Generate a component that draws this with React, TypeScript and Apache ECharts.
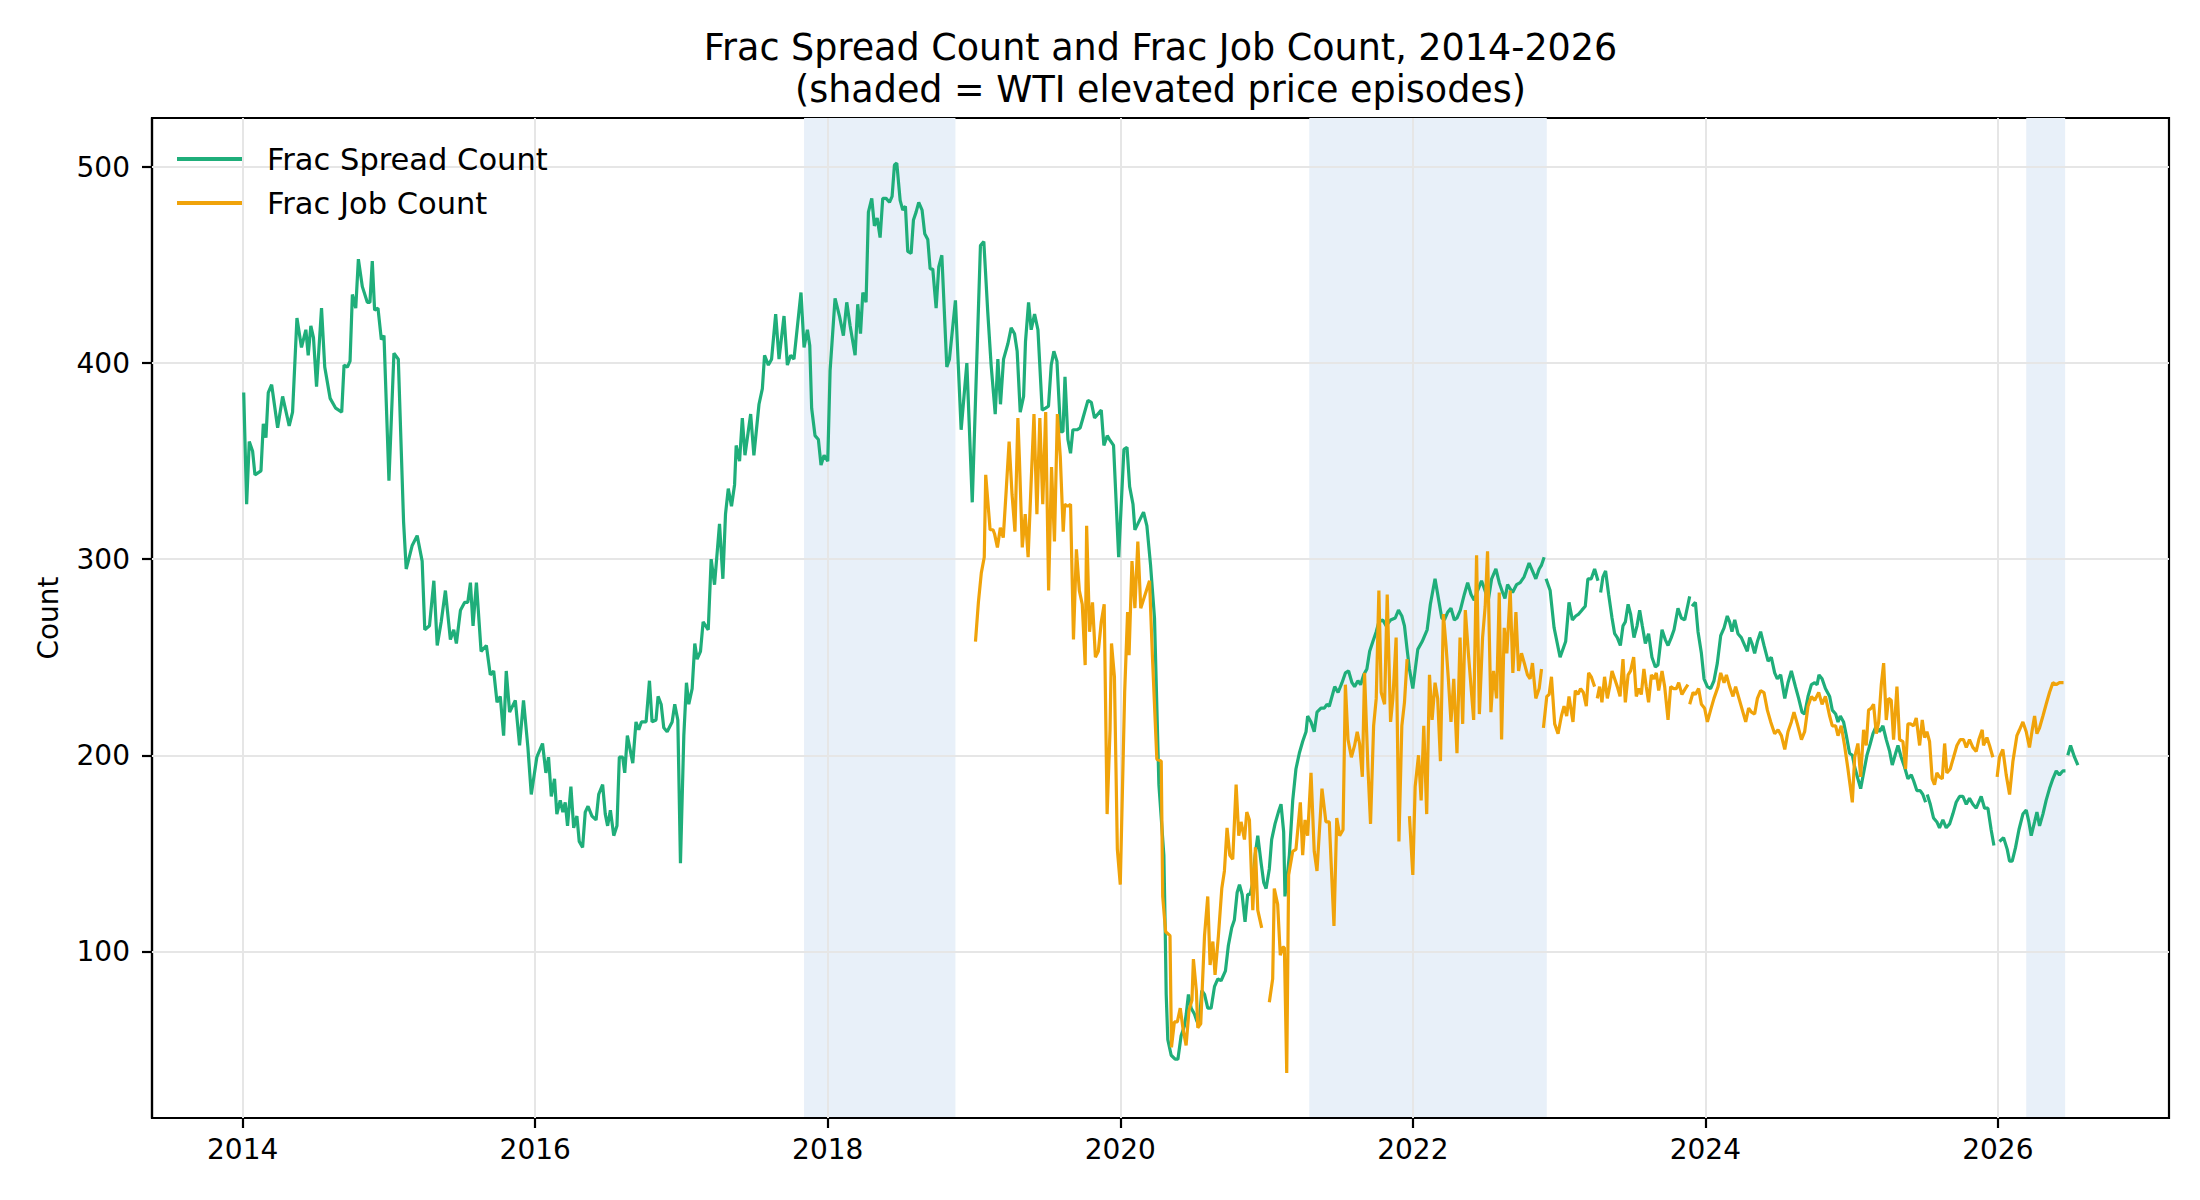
import { useEffect, useRef } from "react";
import * as echarts from "echarts";

// [decimal year, count]; null = no reading that week (line breaks)
type Pt = [number, number | null];

const spread2014: Pt[] = [
  [2014.007, 385], [2014.027, 328], [2014.045, 360], [2014.068, 355], [2014.084, 343], [2014.125, 345],
  [2014.141, 369], [2014.159, 362], [2014.175, 385], [2014.198, 389], [2014.239, 367], [2014.273, 383],
  [2014.318, 368], [2014.341, 375], [2014.371, 423], [2014.402, 408], [2014.432, 417], [2014.448, 404],
  [2014.466, 419], [2014.484, 413], [2014.505, 388], [2014.539, 428], [2014.561, 398], [2014.598, 382],
  [2014.636, 377], [2014.677, 375], [2014.693, 399], [2014.716, 398], [2014.734, 401], [2014.75, 435],
  [2014.773, 428], [2014.791, 453], [2014.818, 439], [2014.852, 431], [2014.87, 431], [2014.886, 452],
  [2014.902, 427], [2014.925, 428], [2014.948, 412], [2014.966, 414], [2015.0, 340], [2015.034, 405],
  [2015.064, 402], [2015.1, 319], [2015.118, 295], [2015.132, 299], [2015.159, 307], [2015.193, 312],
  [2015.227, 299], [2015.245, 264], [2015.277, 266], [2015.307, 289], [2015.33, 256], [2015.357, 268],
  [2015.386, 284], [2015.42, 259], [2015.443, 264], [2015.461, 257], [2015.489, 274], [2015.518, 278],
  [2015.539, 278], [2015.557, 288], [2015.575, 266], [2015.598, 288], [2015.63, 253], [2015.666, 256],
  [2015.693, 241], [2015.716, 243], [2015.739, 227], [2015.761, 230], [2015.784, 210], [2015.802, 243],
  [2015.825, 222], [2015.864, 228], [2015.893, 205], [2015.92, 228], [2015.95, 204], [2015.973, 180],
];

const spread2016: Pt[] = [
  [2016.011, 199], [2016.05, 206], [2016.073, 191], [2016.091, 199], [2016.11, 179], [2016.132, 188],
  [2016.148, 170], [2016.171, 177], [2016.189, 171], [2016.205, 176], [2016.221, 164], [2016.244, 184],
  [2016.263, 163], [2016.285, 169], [2016.301, 156], [2016.324, 153], [2016.342, 171], [2016.361, 174],
  [2016.388, 169], [2016.416, 167], [2016.434, 180], [2016.461, 185], [2016.479, 170], [2016.495, 164],
  [2016.514, 172], [2016.537, 159], [2016.559, 164], [2016.575, 199], [2016.598, 199], [2016.612, 191],
  [2016.63, 210], [2016.667, 196], [2016.689, 217], [2016.708, 213], [2016.726, 217], [2016.758, 217],
  [2016.781, 238], [2016.799, 217], [2016.826, 218], [2016.84, 230], [2016.861, 226], [2016.879, 214],
  [2016.902, 212], [2016.936, 217], [2016.954, 226], [2016.975, 218], [2016.993, 145], [2017.016, 210],
  [2017.034, 237], [2017.05, 226], [2017.073, 234], [2017.091, 257], [2017.107, 249], [2017.13, 253],
  [2017.148, 268], [2017.183, 264], [2017.203, 300], [2017.226, 287], [2017.26, 318], [2017.283, 290],
  [2017.301, 323], [2017.32, 336], [2017.342, 327], [2017.363, 338], [2017.374, 358], [2017.397, 350],
  [2017.416, 372], [2017.434, 353], [2017.473, 374], [2017.495, 353], [2017.53, 379], [2017.553, 387],
  [2017.568, 404], [2017.594, 399], [2017.616, 402], [2017.644, 425], [2017.667, 402], [2017.701, 424],
  [2017.724, 399], [2017.747, 404], [2017.769, 402], [2017.817, 436], [2017.838, 408], [2017.861, 417],
  [2017.877, 409], [2017.89, 377], [2017.913, 363], [2017.936, 361], [2017.954, 348], [2017.975, 353],
];

const spread2018: Pt[] = [
  [2018.0, 350], [2018.016, 396], [2018.05, 433], [2018.08, 424], [2018.107, 414], [2018.13, 431],
  [2018.153, 419], [2018.187, 404], [2018.205, 430], [2018.224, 415], [2018.24, 436], [2018.262, 431],
  [2018.278, 477], [2018.301, 484], [2018.319, 470], [2018.338, 474], [2018.358, 464], [2018.376, 484],
  [2018.399, 484], [2018.422, 482], [2018.44, 485], [2018.456, 501], [2018.472, 502], [2018.495, 483],
  [2018.513, 478], [2018.531, 480], [2018.547, 457], [2018.57, 456], [2018.586, 473], [2018.604, 477],
  [2018.622, 482], [2018.645, 478], [2018.663, 466], [2018.684, 463], [2018.7, 448], [2018.718, 448],
  [2018.741, 428], [2018.759, 449], [2018.78, 455], [2018.814, 398], [2018.832, 402], [2018.873, 432],
  [2018.912, 366], [2018.951, 400], [2018.988, 329], [2019.044, 460], [2019.067, 462], [2019.094, 426],
  [2019.117, 399], [2019.145, 374], [2019.163, 402], [2019.181, 379], [2019.202, 402], [2019.232, 410],
  [2019.254, 418], [2019.277, 415], [2019.295, 406], [2019.316, 375], [2019.339, 383], [2019.352, 411],
  [2019.373, 431], [2019.391, 417], [2019.414, 425], [2019.437, 417], [2019.466, 376], [2019.489, 377],
  [2019.509, 378], [2019.528, 399], [2019.546, 406], [2019.567, 401], [2019.592, 365], [2019.608, 365],
  [2019.622, 393], [2019.642, 361], [2019.66, 354], [2019.676, 366], [2019.704, 366], [2019.726, 367],
  [2019.745, 372], [2019.779, 381], [2019.802, 380], [2019.824, 372], [2019.87, 376], [2019.888, 358],
  [2019.911, 363], [2019.927, 361], [2019.954, 358], [2019.989, 301], [2020.025, 356], [2020.046, 357],
  [2020.064, 337], [2020.087, 328],
];

const spread2020: Pt[] = [
  [2020.1, 315], [2020.12, 318], [2020.159, 324], [2020.182, 317], [2020.207, 297], [2020.234, 270],
  [2020.264, 185], [2020.298, 149], [2020.307, 112], [2020.314, 78], [2020.325, 55], [2020.348, 47],
  [2020.375, 45], [2020.394, 45], [2020.416, 57], [2020.439, 62], [2020.451, 68], [2020.466, 78],
  [2020.485, 71], [2020.507, 68], [2020.526, 64], [2020.541, 64], [2020.557, 80], [2020.576, 78],
  [2020.598, 71], [2020.621, 71], [2020.644, 82], [2020.667, 86], [2020.689, 85], [2020.719, 90],
  [2020.739, 103], [2020.762, 112], [2020.78, 116], [2020.799, 130], [2020.815, 134], [2020.833, 129],
  [2020.853, 115], [2020.871, 129], [2020.887, 129], [2020.906, 135], [2020.922, 149], [2020.94, 159],
  [2020.963, 145], [2020.981, 135], [2020.997, 132], [2021.019, 142], [2021.035, 157], [2021.058, 165],
  [2021.081, 171], [2021.099, 175], [2021.117, 161], [2021.126, 128], [2021.144, 140], [2021.156, 149],
  [2021.179, 177], [2021.201, 193], [2021.224, 201], [2021.247, 207], [2021.27, 212], [2021.281, 220],
  [2021.304, 217], [2021.326, 212], [2021.345, 222], [2021.372, 224], [2021.395, 224], [2021.413, 226],
  [2021.429, 225],
];

const spread2021: Pt[] = [
  [2021.466, 235], [2021.489, 232], [2021.516, 237], [2021.539, 242], [2021.561, 243], [2021.584, 237],
  [2021.602, 235], [2021.625, 238], [2021.643, 236], [2021.664, 241], [2021.686, 244], [2021.705, 253],
  [2021.727, 258], [2021.75, 263], [2021.768, 268], [2021.795, 269], [2021.818, 266], [2021.848, 269],
  [2021.88, 270], [2021.902, 274], [2021.925, 271], [2021.943, 266], [2021.961, 254], [2021.977, 244],
  [2022.0, 234], [2022.034, 254], [2022.064, 258], [2022.098, 264], [2022.12, 277], [2022.152, 290],
  [2022.175, 280], [2022.198, 270], [2022.216, 269], [2022.239, 273], [2022.261, 275], [2022.284, 269],
  [2022.302, 270], [2022.325, 274], [2022.352, 282], [2022.375, 288], [2022.398, 282], [2022.42, 279],
  [2022.443, 284], [2022.47, 289], [2022.489, 285], [2022.516, 279], [2022.539, 290], [2022.568, 295],
  [2022.591, 288], [2022.614, 283], [2022.63, 280], [2022.648, 287], [2022.682, 283], [2022.709, 287],
  [2022.734, 288], [2022.761, 291], [2022.795, 298], [2022.818, 294], [2022.841, 290], [2022.864, 295],
  [2022.88, 297], [2022.898, 301], [2022.904, null], [2022.911, 290], [2022.939, 284], [2022.966, 265],
  [2023.007, 250], [2023.045, 258], [2023.068, 278], [2023.091, 269], [2023.114, 271],
];

const spread2023: Pt[] = [
  [2023.134, 272], [2023.156, 274], [2023.179, 276], [2023.197, 290], [2023.22, 290], [2023.243, 295],
  [2023.266, 289], [2023.275, null], [2023.284, 283], [2023.3, 291], [2023.318, 294], [2023.339, 282],
  [2023.362, 270], [2023.38, 262], [2023.398, 260], [2023.419, 256], [2023.437, 266], [2023.453, 268],
  [2023.472, 277], [2023.489, 272], [2023.512, 260], [2023.533, 266], [2023.551, 274], [2023.569, 266],
  [2023.59, 257], [2023.612, 262], [2023.635, 250], [2023.658, 245], [2023.676, 246], [2023.704, 264],
  [2023.726, 259], [2023.745, 256], [2023.767, 260], [2023.786, 264], [2023.813, 275], [2023.836, 270],
  [2023.859, 269], [2023.893, 281], [2023.9, null], [2023.909, 276], [2023.932, 278], [2023.95, 263],
  [2023.973, 252], [2023.991, 239], [2024.014, 235], [2024.036, 234], [2024.059, 238], [2024.082, 247],
  [2024.105, 261], [2024.128, 265], [2024.15, 271], [2024.166, 268], [2024.182, 263], [2024.201, 269],
  [2024.223, 262], [2024.246, 260], [2024.269, 256], [2024.287, 253], [2024.303, 260], [2024.319, 257],
  [2024.337, 252], [2024.356, 258], [2024.378, 263], [2024.401, 256], [2024.429, 248], [2024.451, 250],
  [2024.474, 242], [2024.492, 239], [2024.515, 241], [2024.543, 229], [2024.565, 237], [2024.588, 243],
  [2024.616, 235], [2024.638, 229], [2024.661, 222], [2024.679, 221], [2024.702, 230], [2024.725, 236],
  [2024.748, 237], [2024.764, 236], [2024.777, 241], [2024.798, 239], [2024.821, 234],
];

const spread2025: Pt[] = [
  [2024.85, 230], [2024.868, 223], [2024.891, 221], [2024.907, 217], [2024.923, 220], [2024.945, 217],
  [2024.964, 210], [2024.986, 201], [2025.005, 200], [2025.021, 194], [2025.043, 188], [2025.062, 183],
  [2025.082, 191], [2025.105, 200], [2025.128, 206], [2025.146, 211], [2025.169, 215], [2025.191, 212],
  [2025.214, 215], [2025.237, 208], [2025.26, 202], [2025.278, 195], [2025.301, 201], [2025.317, 205],
  [2025.339, 199], [2025.362, 194], [2025.385, 188], [2025.408, 190], [2025.424, 187], [2025.446, 182],
  [2025.469, 182], [2025.487, 180], [2025.506, 176], [2025.511, null], [2025.517, 180], [2025.538, 175],
  [2025.56, 168], [2025.583, 166], [2025.601, 163], [2025.624, 167], [2025.647, 163], [2025.67, 165],
  [2025.692, 170], [2025.715, 176], [2025.738, 179], [2025.761, 179], [2025.784, 175], [2025.806, 178],
  [2025.829, 175], [2025.852, 173], [2025.886, 179], [2025.909, 173], [2025.932, 173], [2025.954, 162],
  [2025.973, 154], [2025.99, null], [2026.011, 156], [2026.039, 158], [2026.064, 152], [2026.08, 146],
  [2026.098, 146], [2026.121, 153], [2026.144, 162], [2026.171, 170], [2026.194, 172], [2026.212, 166],
  [2026.228, 159], [2026.251, 166], [2026.267, 171], [2026.285, 164], [2026.308, 170], [2026.33, 177],
  [2026.353, 183], [2026.376, 188], [2026.399, 192], [2026.421, 190], [2026.444, 192], [2026.462, 192],
  [2026.47, null], [2026.478, 200], [2026.497, 205], [2026.524, 199], [2026.547, 195],
];

const job2019: Pt[] = [
  [2019.01, 258], [2019.03, 278], [2019.05, 293], [2019.07, 301], [2019.08, 343], [2019.11, 315],
  [2019.13, 315], [2019.14, 313], [2019.16, 306], [2019.18, 316], [2019.2, 311], [2019.22, 335],
  [2019.24, 360], [2019.26, 333], [2019.28, 314], [2019.3, 372], [2019.31, 352], [2019.33, 306],
  [2019.35, 323], [2019.37, 301], [2019.39, 338], [2019.41, 374], [2019.43, 323], [2019.45, 372],
  [2019.47, 328], [2019.49, 375], [2019.51, 284], [2019.53, 347], [2019.55, 309], [2019.57, 374],
  [2019.59, 352], [2019.61, 314], [2019.62, 328], [2019.64, 327], [2019.66, 328], [2019.68, 259],
  [2019.7, 305], [2019.72, 284], [2019.74, 277], [2019.76, 246], [2019.77, 317], [2019.79, 263],
  [2019.81, 278], [2019.83, 250], [2019.85, 253], [2019.87, 268], [2019.89, 277], [2019.91, 170],
  [2019.93, 213], [2019.94, 257], [2019.96, 240], [2019.98, 152], [2020.0, 134], [2020.03, 232],
  [2020.05, 273], [2020.06, 251], [2020.08, 299], [2020.1, 275],
];

const job2020: Pt[] = [
  [2020.12, 309], [2020.14, 275], [2020.17, 282], [2020.2, 289], [2020.22, 250], [2020.25, 198],
  [2020.28, 197], [2020.29, 128], [2020.31, 110], [2020.34, 108], [2020.35, 51], [2020.37, 64],
  [2020.39, 64], [2020.41, 71], [2020.43, 60], [2020.45, 52], [2020.47, 70], [2020.49, 75],
  [2020.5, 96], [2020.52, 80], [2020.53, 61], [2020.55, 63], [2020.576, 108], [2020.598, 128],
  [2020.614, 93], [2020.633, 105], [2020.648, 88], [2020.671, 108], [2020.694, 132], [2020.712, 141],
  [2020.73, 163], [2020.749, 149], [2020.769, 147], [2020.792, 185], [2020.81, 159], [2020.826, 166],
  [2020.849, 157], [2020.865, 171], [2020.883, 167], [2020.906, 121], [2020.924, 153], [2020.94, 121],
  [2020.967, 112], [2020.99, null], [2021.019, 74], [2021.042, 86], [2021.053, 132], [2021.076, 124],
  [2021.094, 98], [2021.11, 102], [2021.122, 102], [2021.138, 38], [2021.151, 139], [2021.179, 151],
  [2021.201, 152], [2021.231, 176], [2021.247, 149], [2021.263, 167], [2021.281, 159], [2021.304, 191],
  [2021.326, 151], [2021.345, 141], [2021.379, 183], [2021.406, 166], [2021.429, 166],
];

const job2021: Pt[] = [
  [2021.461, 113], [2021.48, 168], [2021.5, 159], [2021.523, 162], [2021.539, 236], [2021.557, 208],
  [2021.58, 199], [2021.602, 205], [2021.62, 212], [2021.636, 206], [2021.655, 189], [2021.67, 242],
  [2021.693, 194], [2021.711, 165], [2021.732, 215], [2021.75, 229], [2021.768, 284], [2021.784, 232],
  [2021.807, 226], [2021.825, 282], [2021.848, 217], [2021.864, 229], [2021.886, 260], [2021.905, 156],
  [2021.925, 215], [2021.943, 227], [2021.961, 249], [2021.97, null], [2021.977, 169], [2022.0, 139],
  [2022.016, 184], [2022.039, 200], [2022.057, 177], [2022.075, 215], [2022.095, 170], [2022.114, 241],
  [2022.132, 218], [2022.152, 237], [2022.17, 229], [2022.189, 197], [2022.209, 272], [2022.227, 256],
  [2022.243, 239], [2022.261, 217], [2022.28, 239], [2022.302, 201], [2022.323, 260], [2022.341, 216],
  [2022.359, 274], [2022.38, 252], [2022.398, 235], [2022.416, 218], [2022.436, 302], [2022.455, 221],
  [2022.477, 260], [2022.495, 276], [2022.511, 304], [2022.534, 222], [2022.552, 243], [2022.573, 229],
  [2022.591, 283], [2022.607, 208], [2022.625, 265], [2022.643, 252], [2022.666, 284], [2022.684, 242],
  [2022.705, 273], [2022.723, 243], [2022.743, 252], [2022.766, 246], [2022.784, 241], [2022.802, 239],
  [2022.818, 247], [2022.841, 229], [2022.864, 234], [2022.88, 244], [2022.886, null], [2022.893, 214],
  [2022.916, 230], [2022.932, 231], [2022.948, 240], [2022.97, 216], [2022.993, 211], [2023.016, 220],
  [2023.034, 225], [2023.052, 220], [2023.068, 230],
];

const job2023: Pt[] = [
  [2023.095, 217], [2023.111, 233], [2023.129, 231], [2023.147, 234], [2023.166, 232], [2023.186, 225],
  [2023.202, 242], [2023.22, 240], [2023.243, 235], [2023.252, null], [2023.261, 229], [2023.277, 235],
  [2023.293, 227], [2023.311, 240], [2023.33, 229], [2023.346, 235], [2023.362, 243], [2023.38, 239],
  [2023.398, 235], [2023.417, 230], [2023.437, 249], [2023.453, 227], [2023.472, 241], [2023.489, 243],
  [2023.51, 250], [2023.528, 230], [2023.546, 234], [2023.562, 231], [2023.58, 244], [2023.596, 235],
  [2023.612, 227], [2023.631, 241], [2023.649, 239], [2023.665, 242], [2023.681, 233], [2023.704, 243],
  [2023.722, 235], [2023.745, 218], [2023.763, 235], [2023.783, 234], [2023.802, 234], [2023.818, 237],
  [2023.84, 231], [2023.863, 234], [2023.881, 236], [2023.887, null], [2023.893, 226], [2023.916, 232],
  [2023.932, 231], [2023.954, 234], [2023.973, 226], [2023.995, 224], [2024.014, 217], [2024.036, 223],
  [2024.059, 229], [2024.087, 235], [2024.105, 242], [2024.128, 237], [2024.144, 241], [2024.166, 235],
  [2024.189, 230], [2024.207, 235], [2024.23, 229], [2024.253, 223], [2024.276, 217], [2024.296, 224],
  [2024.315, 222], [2024.337, 221], [2024.356, 229], [2024.378, 233], [2024.401, 232], [2024.424, 223],
  [2024.447, 217], [2024.474, 211], [2024.497, 213], [2024.52, 210], [2024.543, 203], [2024.565, 212],
  [2024.588, 217], [2024.606, 222], [2024.629, 216], [2024.657, 208], [2024.679, 212], [2024.702, 225],
  [2024.725, 230], [2024.748, 228], [2024.775, 232], [2024.798, 226], [2024.821, 230],
];

const job2025: Pt[] = [
  [2024.85, 220], [2024.868, 215], [2024.891, 215], [2024.907, 210], [2024.929, 215], [2024.952, 205],
  [2024.975, 193], [2024.991, 184], [2025.005, 176], [2025.021, 199], [2025.043, 206], [2025.062, 189],
  [2025.082, 213], [2025.1, 205], [2025.116, 223], [2025.134, 224], [2025.15, 226], [2025.169, 211],
  [2025.185, 217], [2025.203, 236], [2025.219, 247], [2025.237, 218], [2025.253, 229], [2025.271, 228],
  [2025.287, 208], [2025.31, 235], [2025.328, 208], [2025.351, 207], [2025.369, 193], [2025.385, 216],
  [2025.403, 216], [2025.424, 215], [2025.442, 219], [2025.465, 205], [2025.483, 218], [2025.499, 209],
  [2025.515, 212], [2025.533, 207], [2025.551, 188], [2025.567, 185], [2025.583, 191], [2025.601, 189],
  [2025.62, 188], [2025.636, 206], [2025.651, 191], [2025.674, 193], [2025.697, 199], [2025.72, 205],
  [2025.743, 208], [2025.765, 208], [2025.784, 204], [2025.806, 208], [2025.829, 204], [2025.852, 202],
  [2025.87, 208], [2025.893, 213], [2025.902, 205], [2025.925, 209], [2025.943, 205], [2025.966, 199],
  [2025.98, null], [2025.995, 189], [2026.011, 199], [2026.034, 203], [2026.057, 190], [2026.08, 180],
  [2026.103, 197], [2026.13, 210], [2026.148, 213], [2026.171, 217], [2026.194, 212], [2026.216, 204],
  [2026.235, 213], [2026.251, 220], [2026.267, 211], [2026.285, 214], [2026.308, 220], [2026.33, 226],
  [2026.353, 232], [2026.376, 237], [2026.399, 236], [2026.421, 237], [2026.449, 237],
];

// WTI elevated price episodes (start, end) in decimal years
const shadedEpisodes: [number, number][] = [
  [2017.838, 2018.873],
  [2021.292, 2022.916],
  [2026.194, 2026.46],
];

const yearTicks = [2014, 2016, 2018, 2020, 2022, 2024, 2026];
const countTicks = [100, 200, 300, 400, 500];

const spreadCount = [...spread2014, ...spread2016, ...spread2018, ...spread2020, ...spread2021, ...spread2023, ...spread2025];
const jobCount = [...job2019, ...job2020, ...job2021, ...job2023, ...job2025];

const GREEN = "#1fae7a";
const ORANGE = "#f0a30a";
const FONT = "'DejaVu Sans', sans-serif";

const toLine = (rows: Pt[]) => rows.map(([x, y]) => [x, y === null ? "-" : y]);

export default function App() {
  const chartRef = useRef<HTMLDivElement>(null);

  useEffect(() => {
    if (!chartRef.current) return;
    document.body.style.margin = "0";
    const chart = echarts.init(chartRef.current, null, { renderer: "svg" });

    const option: echarts.EChartsOption = {
      animation: false,
      backgroundColor: "#fff",
      textStyle: { fontFamily: FONT, color: "#000" },
      title: {
        text: "Frac Spread Count and Frac Job Count, 2014-2026\n(shaded = WTI elevated price episodes)",
        left: 1160.5,
        top: 26,
        textAlign: "center",
        padding: 0,
        textStyle: { fontFamily: FONT, fontSize: 36.5, fontWeight: "normal", color: "#000", lineHeight: 42 },
      },
      legend: {
        data: ["Frac Spread Count", "Frac Job Count"],
        orient: "vertical",
        left: 177,
        top: 143,
        padding: 0,
        icon: "rect",
        itemWidth: 65,
        itemHeight: 4,
        itemGap: 12,
        textStyle: { fontFamily: FONT, fontSize: 30.5, color: "#000", lineHeight: 32, padding: [0, 0, 0, 20] },
      },
      grid: {
        left: 152,
        right: 31,
        top: 118,
        bottom: 82,
        show: true,
        borderColor: "#000",
        borderWidth: 2.2,
        backgroundColor: "transparent",
      },
      xAxis: {
        type: "value",
        min: 2013.38,
        max: 2027.17,
        axisLine: { show: true, lineStyle: { color: "#000", width: 2.2 } },
        axisTick: { show: true, length: 10, lineStyle: { color: "#000", width: 2.2 }, customValues: yearTicks },
        axisLabel: {
          customValues: yearTicks,
          fontSize: 28,
          color: "#000",
          fontFamily: FONT,
          margin: 17,
          formatter: (v: number) => String(Math.round(v)),
        },
        splitLine: { show: false },
      },
      yAxis: {
        type: "value",
        min: 15,
        max: 525,
        name: "Count",
        nameLocation: "middle",
        nameRotate: 90,
        nameGap: 90,
        nameTextStyle: { fontSize: 28, color: "#000", fontFamily: FONT },
        axisLine: { show: true, lineStyle: { color: "#000", width: 2.2 } },
        axisTick: { show: true, length: 10, lineStyle: { color: "#000", width: 2.2 }, customValues: countTicks },
        axisLabel: { customValues: countTicks, fontSize: 28, color: "#000", fontFamily: FONT, margin: 22 },
        splitLine: { show: false },
      },
      series: [
        {
          name: "Frac Spread Count",
          type: "line",
          data: toLine(spreadCount),
          symbol: "none",
          showSymbol: false,
          connectNulls: false,
          z: 2,
          color: GREEN,
          lineStyle: { color: GREEN, width: 3.2 },
          itemStyle: { color: GREEN },
          emphasis: { disabled: true },
          markArea: {
            silent: true,
            z: 0,
            itemStyle: { color: "#e8f0f9" },
            label: { show: false },
            data: shadedEpisodes.map(([a, b]) => [{ xAxis: a }, { xAxis: b }]) as any,
          },
          markLine: {
            silent: true,
            z: 1,
            symbol: ["none", "none"],
            label: { show: false },
            lineStyle: { color: "#e6e6e6", width: 2, type: "solid" },
            emphasis: { disabled: true },
            data: [
              ...yearTicks.map((y) => ({ xAxis: y })),
              ...countTicks.map((v) => ({ yAxis: v })),
            ] as any,
          },
        },
        {
          name: "Frac Job Count",
          type: "line",
          data: toLine(jobCount),
          symbol: "none",
          showSymbol: false,
          connectNulls: false,
          z: 3,
          color: ORANGE,
          lineStyle: { color: ORANGE, width: 3.2 },
          itemStyle: { color: ORANGE },
          emphasis: { disabled: true },
        },
      ],
    };

    chart.setOption(option);
    return () => chart.dispose();
  }, []);

  return <div ref={chartRef} style={{ width: 2200, height: 1200 }} />;
}
